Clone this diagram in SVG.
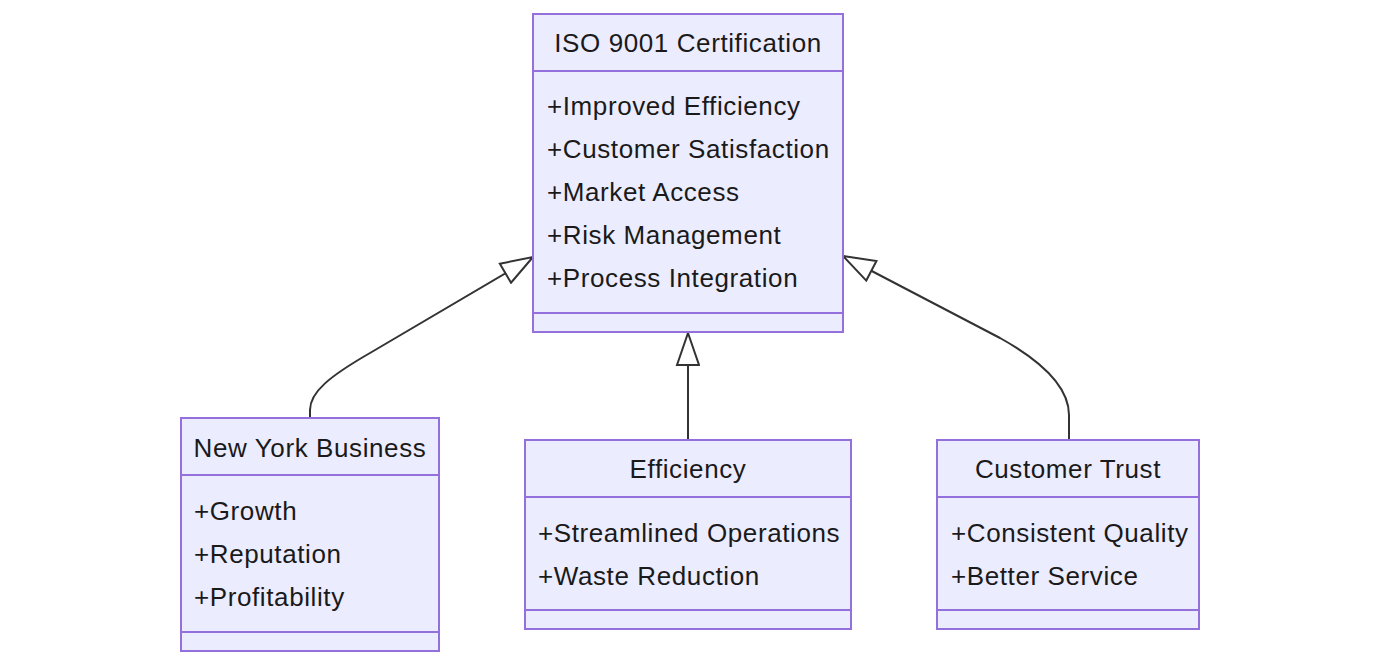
<svg xmlns="http://www.w3.org/2000/svg" width="1379" height="665" viewBox="0 0 1379 665">
<style>
.box{fill:#ECECFF;stroke:#9370DB;stroke-width:2}
.div{stroke:#9370DB;stroke-width:2}
text{font-family:"Liberation Sans",Arial,sans-serif;font-size:26px;letter-spacing:0.6px;fill:#1a1a1a}
.t{text-anchor:middle}
.edge{fill:none;stroke:#333;stroke-width:2}
</style>
<defs>
<marker id="ext" markerUnits="userSpaceOnUse" markerWidth="40" markerHeight="30" refX="1" refY="12" orient="auto" viewBox="0 0 40 30">
<path d="M1,12 L33,1 L33,23 Z" fill="#fff" stroke="#333" stroke-width="2"/>
</marker>
</defs>
<g id="connectors">
<path class="edge" d="M533,257 L370,353 C330,376 310,392 310,410 L310,418" marker-start="url(#ext)"/>
<path class="edge" d="M688,333 L688,440" marker-start="url(#ext)"/>
<path class="edge" d="M843,256 L1000,338 C1045,363 1069,388 1069,415 L1069,440" marker-start="url(#ext)"/>
</g>
<g id="iso">
<rect class="box" x="533" y="14" width="310" height="318"/>
<line class="div" x1="533" y1="71" x2="843" y2="71"/>
<line class="div" x1="533" y1="313" x2="843" y2="313"/>
<text class="t" x="688" y="52">ISO 9001 Certification</text>
<text x="547" y="115">+Improved Efficiency</text>
<text x="547" y="158">+Customer Satisfaction</text>
<text x="547" y="201">+Market Access</text>
<text x="547" y="244">+Risk Management</text>
<text x="547" y="287">+Process Integration</text>
</g>
<g id="nyb">
<rect class="box" x="181" y="418" width="258" height="233"/>
<line class="div" x1="181" y1="475" x2="439" y2="475"/>
<line class="div" x1="181" y1="632" x2="439" y2="632"/>
<text class="t" x="310" y="457">New York Business</text>
<text x="194" y="520">+Growth</text>
<text x="194" y="563">+Reputation</text>
<text x="194" y="606">+Profitability</text>
</g>
<g id="efficiency">
<rect class="box" x="525" y="440" width="326" height="189"/>
<line class="div" x1="525" y1="497" x2="851" y2="497"/>
<line class="div" x1="525" y1="610" x2="851" y2="610"/>
<text class="t" x="688" y="478">Efficiency</text>
<text x="538" y="542">+Streamlined Operations</text>
<text x="538" y="585">+Waste Reduction</text>
</g>
<g id="trust">
<rect class="box" x="937" y="440" width="262" height="189"/>
<line class="div" x1="937" y1="497" x2="1199" y2="497"/>
<line class="div" x1="937" y1="610" x2="1199" y2="610"/>
<text class="t" x="1068" y="478">Customer Trust</text>
<text x="951" y="542">+Consistent Quality</text>
<text x="951" y="585">+Better Service</text>
</g>
</svg>
